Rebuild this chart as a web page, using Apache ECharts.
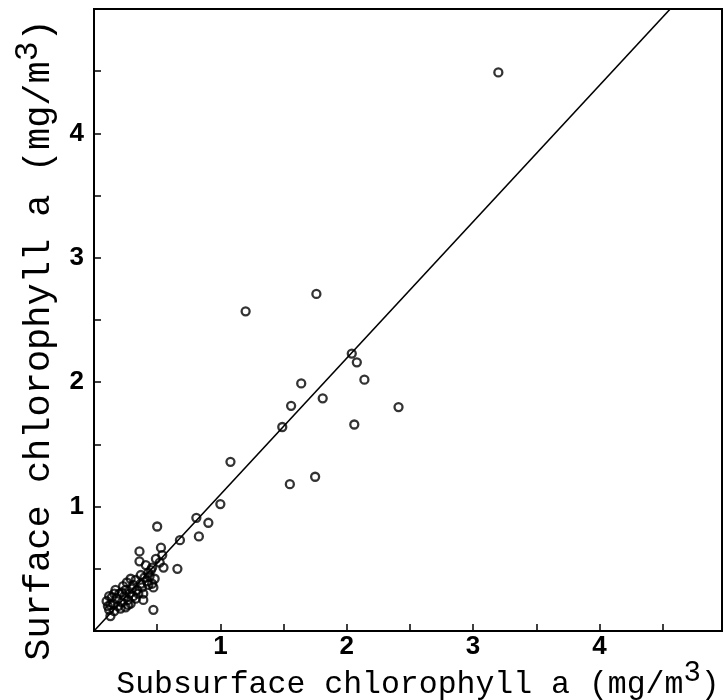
<!DOCTYPE html>
<html><head><meta charset="utf-8">
<script src="https://cdn.jsdelivr.net/npm/echarts@6/dist/echarts.min.js"></script>
<style>html,body{margin:0;padding:0;background:#fff}#c{width:724px;height:700px}</style>
</head><body><div id="c"></div>
<script>
// Subsurface (x) and surface (y) chlorophyll a, mg/m3
const subsurface = [
  0.50,0.36,0.36,0.53,0.54,0.49,0.55,0.66,0.41,0.46,0.43,0.37,0.40,0.48,0.33,0.29,0.46,0.47,0.39,0.31,
  0.26,0.23,0.17,0.16,0.12,0.10,0.13,0.12,0.13,0.18,0.22,0.21,0.25,0.29,0.33,0.35,0.47,0.39,0.34,0.28,
  0.24,0.20,0.15,0.11,0.27,0.31,0.37,0.42,0.44,0.25,0.19,0.14,0.30,0.38,0.52,0.45,0.22,0.16,0.27,0.43,
  0.68,0.81,0.83,0.905,1.00,1.08,1.20,1.49,1.55,1.56,1.64,1.75,1.76,1.81,2.04,2.06,2.08,2.14,2.41,3.20
];
const surface = [
  0.84,0.64,0.56,0.67,0.61,0.58,0.51,0.50,0.53,0.51,0.47,0.45,0.43,0.42,0.41,0.42,0.38,0.35,0.30,0.37,
  0.39,0.36,0.33,0.30,0.28,0.24,0.21,0.17,0.12,0.26,0.23,0.18,0.19,0.22,0.26,0.30,0.17,0.25,0.33,0.30,
  0.28,0.30,0.22,0.20,0.25,0.28,0.38,0.40,0.44,0.33,0.20,0.27,0.34,0.35,0.55,0.49,0.31,0.16,0.21,0.37,
  0.73,0.91,0.76,0.87,1.02,1.36,2.57,1.64,1.18,1.81,1.99,1.24,2.71,1.87,2.23,1.66,2.16,2.02,1.80,4.49
];
// fitted line end points
const fitX = [0, 4.56];
const fitY = [0, 5.0];
const tickLabels = ['1', '2', '3', '4'];

const points = subsurface.map((v, i) => [v, surface[i]]);
const fitLine = fitX.map((v, i) => [v, fitY[i]]);

const chart = echarts.init(document.getElementById('c'), null, {renderer: 'canvas'});
const tickFmt = v => {
  const s = String(Math.round(v * 100) / 100);
  return tickLabels.indexOf(s) >= 0 ? s : '';
};
const titleRich = (size, supSize, raise) => ({
  t: {fontFamily: 'Liberation Mono', fontSize: size, color: '#000', verticalAlign: 'bottom'},
  s: {fontFamily: 'Liberation Mono', fontSize: supSize, color: '#000', verticalAlign: 'bottom', padding: [0, 0, raise, 0]}
});
chart.setOption({
  animation: false,
  backgroundColor: '#fff',
  grid: {left: 94, top: 9, width: 628, height: 622, show: true, borderColor: '#000', borderWidth: 2,
         containLabel: false, outerBoundsMode: 'none'},
  xAxis: {
    type: 'value', min: 0, max: 4.97, interval: 0.5,
    axisLine: {show: true, lineStyle: {color: '#000', width: 2}},
    axisTick: {show: true, inside: true, length: 7, lineStyle: {color: '#000', width: 1.5}},
    splitLine: {show: false},
    axisLabel: {formatter: tickFmt, fontFamily: 'Liberation Sans', fontWeight: 'bold', fontSize: 26, color: '#000', margin: 3, showMaxLabel: false},
    name: '{t|Subsurface chlorophyll a (mg/m}{s|3}{t|)}',
    nameLocation: 'middle', nameGap: 28, nameMoveOverlap: false,
    nameTextStyle: {padding: [0, 0, 0, 20], rich: titleRich(31.5, 29, 13)}
  },
  yAxis: {
    type: 'value', min: 0, max: 5, interval: 0.5,
    axisLine: {show: true, lineStyle: {color: '#000', width: 2}},
    axisTick: {show: true, inside: true, length: 7, lineStyle: {color: '#000', width: 1.5}},
    splitLine: {show: false},
    axisLabel: {formatter: tickFmt, fontFamily: 'Liberation Sans', fontWeight: 'bold', fontSize: 26, color: '#000', margin: 10},
    name: '{t|Surface chlorophyll a (mg/m}{s|3}{t|)}',
    nameLocation: 'middle', nameGap: 36, nameMoveOverlap: false,
    nameTextStyle: {padding: [0, 40, 0, 0], rich: titleRich(37, 33, 13)}
  },
  series: [
    {type: 'line', data: fitLine, symbol: 'none', lineStyle: {color: '#000', width: 1.6}, silent: true, z: 3},
    {type: 'scatter', data: points, symbol: 'circle', symbolSize: 8,
     itemStyle: {color: 'rgba(0,0,0,0)', borderColor: '#000', borderWidth: 2.3}, z: 4}
  ]
});
</script></body></html>
